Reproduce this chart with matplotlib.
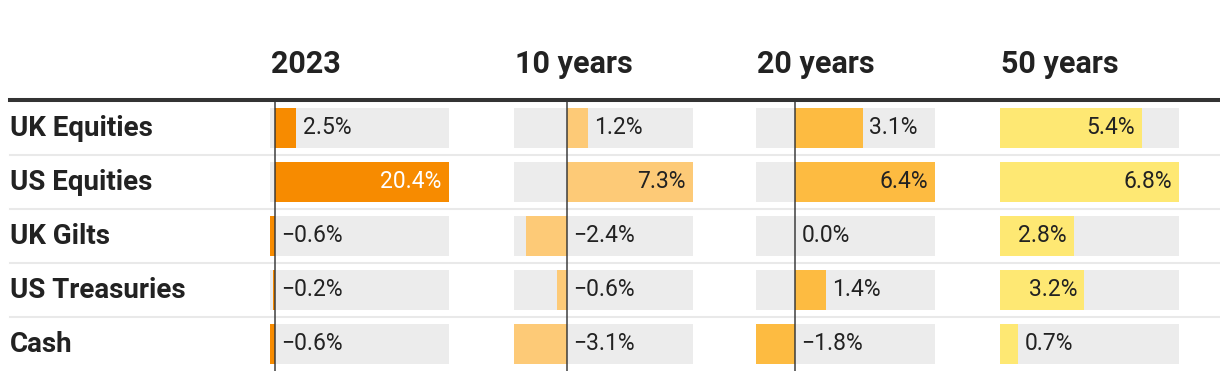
import matplotlib.pyplot as plt
from matplotlib.lines import Line2D

plt.rcParams['font.family'] = ['Roboto', 'DejaVu Sans']

# data
categories = ["UK Equities", "US Equities", "UK Gilts", "US Treasuries", "Cash"]
periods = ["2023", "10 years", "20 years", "50 years"]
ret_2023 = [2.5, 20.4, -0.6, -0.2, -0.6]
ret_10y = [1.2, 7.3, -2.4, -0.6, -3.1]
ret_20y = [3.1, 6.4, 0.0, 1.4, -1.8]
ret_50y = [5.4, 6.8, 2.8, 3.2, 0.7]
columns = [ret_2023, ret_10y, ret_20y, ret_50y]

bar_colors = ['#f78b00', '#fdca77', '#fdbb41', '#fee873']
inside_text = ['white', '#222222', '#222222', '#222222']
col_left = [270, 514, 756, 1000]   # pixel left of each column
col_w = 179

W, H = 1220, 380
fig = plt.figure(figsize=(W / 100, H / 100), dpi=100)

# overlay axes in pixel coords for table furniture
ax0 = fig.add_axes([0, 0, 1, 1])
ax0.set_xlim(0, W); ax0.set_ylim(H, 0); ax0.axis('off')

top, pitch = 101, 54
ax0.add_line(Line2D([10, W], [100, 100], color='#333333', lw=2.9))
for i in range(1, len(categories)):
    y = top + pitch * i
    ax0.add_line(Line2D([10, W], [y, y], color='#e9e9e9', lw=1.5))
for i, c in enumerate(categories):
    ax0.text(10, top + pitch * (i + 0.5) + 1, c, fontsize=20, fontweight='bold',
             color='#222222', va='center', ha='left')
for j, p in enumerate(periods):
    ax0.text(col_left[j] + 1, 64, p, fontsize=22, fontweight='bold',
             color='#222222', va='center', ha='left')

n = len(categories)
for j, vals in enumerate(columns):
    lo, hi = min(0, min(vals)), max(0, max(vals))
    ax = fig.add_axes([col_left[j] / W, 1 - (top + pitch * n) / H,
                       col_w / W, pitch * n / H])
    ax.set_xlim(lo, hi)
    ax.set_ylim(n - 0.5, -0.5)
    ax.axis('off')
    ys = range(n)
    ax.barh(ys, [hi - lo] * n, left=lo, height=40 / 54, color='#ececec', zorder=1)
    ax.barh(ys, vals, height=40 / 54, color=bar_colors[j], zorder=2)
    if lo < 0:
        ax.axvline(0, color='#333333', alpha=0.8, lw=1.3, zorder=3)
    for i, v in enumerate(vals):
        lab = f"{v:.1f}%".replace('-', '\u2212')
        if v > 0 and v / (hi - lo) > 0.39:
            ax.annotate(lab, (v, i), xytext=(-5.2, 0), textcoords='offset points',
                        ha='right', va='center', fontsize=16.5,
                        color=inside_text[j], zorder=4)
        else:
            ax.annotate(lab, (max(v, 0), i), xytext=(4.5, 0),
                        textcoords='offset points', ha='left', va='center',
                        fontsize=16.5, color='#222222', zorder=4)

fig.savefig('out.png', dpi=100)
